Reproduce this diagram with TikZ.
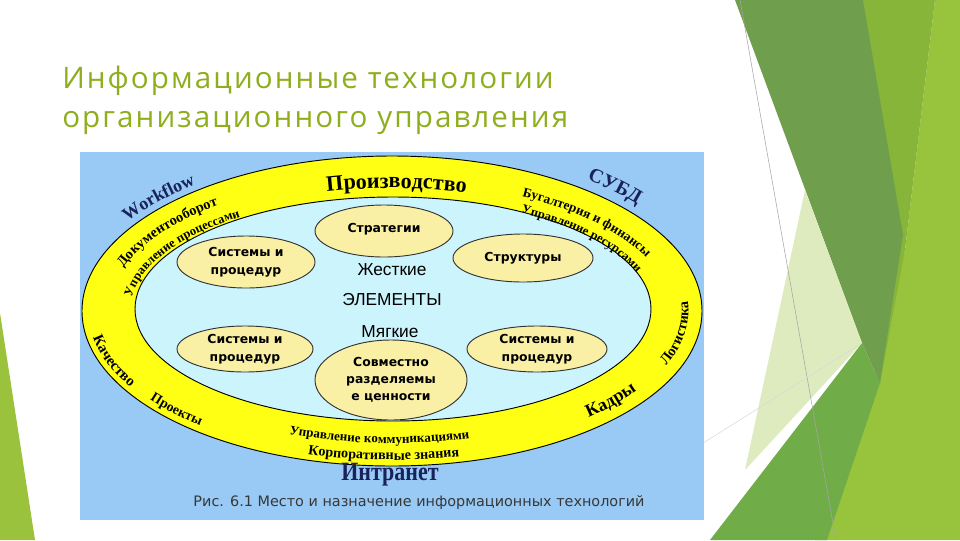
\documentclass[tikz,border=0pt]{standalone}
\usepackage{fontspec}
\setmainfont{Liberation Serif}
\newfontfamily\titlefont[LetterSpace=7]{Open Sans}
\newfontfamily\ellfont{DejaVu Sans}
\newfontfamily\capfont{DejaVu Sans}
\newfontfamily\arialfont{Liberation Sans}
\usetikzlibrary{shapes.geometric,decorations.text}
\definecolor{titlegreen}{RGB}{143,174,30}
\definecolor{bluebg}{RGB}{153,202,245}
\definecolor{bandyellow}{RGB}{255,255,20}
\definecolor{innercyan}{RGB}{204,244,252}
\definecolor{ellfill}{RGB}{250,240,165}
\definecolor{navytext}{RGB}{25,35,90}
\definecolor{capgray}{RGB}{55,55,55}
\definecolor{gLight}{RGB}{152,195,60}
\definecolor{gMid}{RGB}{134,181,58}
\definecolor{gDark}{RGB}{111,158,76}
\definecolor{gPale}{RGB}{222,235,190}
\definecolor{gBottom}{RGB}{112,172,72}
\definecolor{gLeft}{RGB}{155,194,60}
\newcommand{\bandtext}[7]{%
  \pgfmathsetmacro\bra{310-52*(#1)}%
  \pgfmathsetmacro\brb{155-43*(#1)}%
  \pgfmathsetmacro\bsa{#2-(#3)*(#7)}%
  \pgfmathsetmacro\bea{#2+(#3)*(#7)}%
  \pgfmathsetmacro\bsx{392+\bra*cos(\bsa)}%
  \pgfmathsetmacro\bsy{311+\brb*sin(\bsa)}%
  \path[decorate,decoration={text along path,text align=center,text color=#5,
     text={|\bfseries\fontsize{#4}{#4}\selectfont|#6}}]
     (\bsx,\bsy) arc[start angle=\bsa,end angle=\bea,x radius=\bra,y radius=\brb];
}
\begin{document}
\begin{tikzpicture}[x=0.75pt,y=-0.75pt,
  smallell/.style={ellipse,draw=black!80,line width=0.7pt,fill=ellfill,inner sep=0pt,
     align=center,font=\ellfont\bfseries\fontsize{9.3}{13.5}\selectfont},
  midtext/.style={font=\arialfont\fontsize{13}{15}\selectfont,inner sep=0pt},
  titletext/.style={anchor=base west,inner sep=0pt,text=titlegreen,
     font=\titlefont\fontsize{22.2}{26}\selectfont}]
\useasboundingbox (0,0) rectangle (960,540);
\fill[white] (0,0) rectangle (960,540);
% decorative facets
\fill[gLeft] (0,313) -- (35,540) -- (0,540) -- cycle;
\fill[gLight] (935,0) -- (960,0) -- (960,540) -- (815,540) -- (870,390) -- (905,250) -- cycle;
\fill[gMid] (863,0) -- (935,0) -- (905,250) -- (880,383) -- cycle;
\fill[gDark] (735,0) -- (863,0) -- (903,235) -- (880,383) -- (862,343) -- cycle;
\fill[gPale] (805,190) -- (862,343) -- (745,470) -- cycle;
\fill[gBottom] (862,343) -- (880,383) -- (827,540) -- (710,540) -- cycle;
\draw[gray!70,line width=0.4pt] (740,0) -- (836,540);
\draw[gray!30,line width=0.4pt] (700,445) -- (862,343);
% title
\node[titletext] (t1) at (62,88) {Информационные технологии};
\node[titletext] (t2) at (62,127) {организационного управления};
% figure
\fill[bluebg] (80,152) rectangle (704,520);
\draw[black,line width=0.7pt,fill=bandyellow] (392,311) ellipse [x radius=310,y radius=155];
\draw[black,line width=0.7pt,fill=innercyan] (393,309) ellipse [x radius=258,y radius=112];
\node[smallell,minimum width=103.5pt,minimum height=39pt] (strat) at (384,231) {\raisebox{5pt}{Стратегии}};
\node[smallell,minimum width=103.5pt,minimum height=39pt] (sysA) at (246,262) {Системы и\\процедур};
\node[smallell,minimum width=105pt,minimum height=36pt] (struct) at (523,258) {\raisebox{2pt}{Структуры}};
\node[smallell,minimum width=102pt,minimum height=34.5pt] (sysB) at (245,349) {Системы и\\процедур};
\node[smallell,minimum width=105pt,minimum height=34.5pt] (sysC) at (537,349) {Системы и\\процедур};
\node[smallell,minimum width=114pt,minimum height=60pt,
  font=\ellfont\bfseries\fontsize{9.3}{12.75}\selectfont] (vals) at (391,380) {Совместно\\разделяемы\\е ценности};
\node[midtext] (hard) at (392,270) {Жесткие};
\node[midtext] (elem) at (392,300) {ЭЛЕМЕНТЫ};
\node[midtext] (soft) at (390,332) {Мягкие};
% band texts: t, centre angle, direction, size, colour, text, half span
\bandtext{0.744}{271}{1}{16.5}{black}{Производство}{20}
\bandtext{0.5}{213.5}{1}{10.8}{black}{Документооборот}{25}
\bandtext{0.92}{208.8}{1}{9.5}{black}{Управление процессами}{30}
\bandtext{0.6}{318}{1}{10}{black}{Бугалтерия и финансы}{24}
\bandtext{0.97}{321.5}{1}{9.5}{black}{Управление ресурсами}{25}
\bandtext{0.26}{8.5}{-1}{10.8}{black}{Логистика}{20}
\bandtext{0.28}{40.6}{-1}{13.5}{black}{Кадры}{12}
\bandtext{0.12}{160.5}{-1}{11.2}{black}{Качество}{16}
\bandtext{0.15}{136.7}{-1}{10.3}{black}{Проекты}{11}
\bandtext{0.53}{92.8}{-1}{9.8}{black}{Управление коммуникациями}{24}
\bandtext{0.14}{91.7}{-1}{10.6}{black}{Корпоративные знания}{22}
\bandtext{-0.14}{222.2}{1}{13.5}{navytext}{Workflow}{13}
\bandtext{-0.23}{313.8}{1}{15}{navytext}{СУБД}{10}
\node[font=\bfseries\fontsize{16.5}{18}\selectfont,text=navytext,inner sep=0pt] (intra) at (390,475) {\scalebox{1}[1.2]{Интранет}};
\node[font=\capfont\fontsize{10.8}{12}\selectfont,text=capgray,inner sep=0pt] (cap) at (419,503) {Рис. 6.1 Место и назначение информационных технологий};
\end{tikzpicture}
\end{document}
